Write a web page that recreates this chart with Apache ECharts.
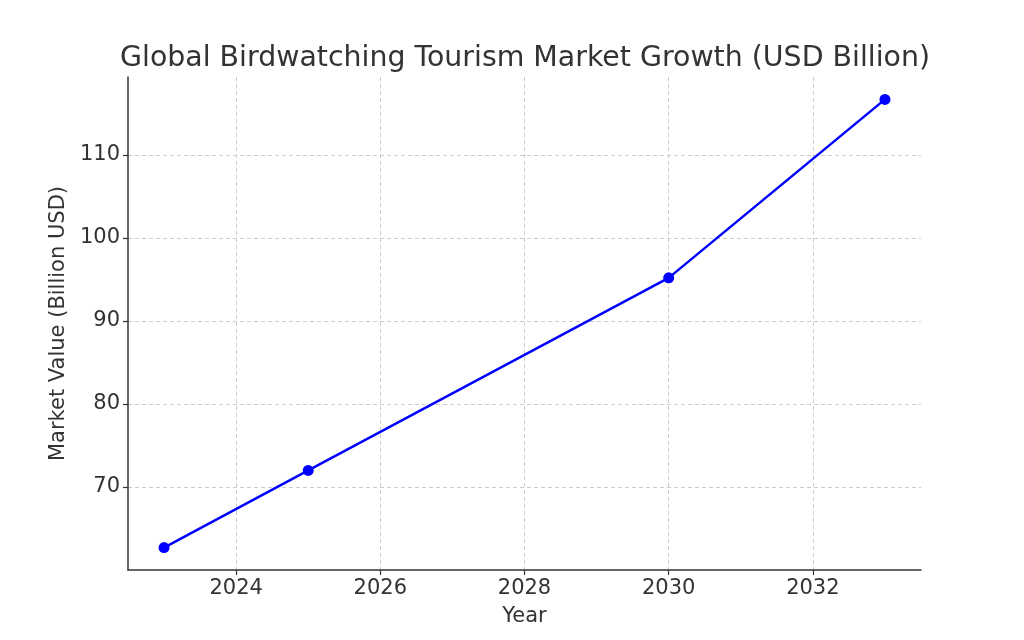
<!DOCTYPE html>
<html>
<head>
<meta charset="utf-8">
<script src="https://cdn.jsdelivr.net/npm/echarts@6/dist/echarts.min.js"></script>
<style>
    html, body { margin: 0; padding: 0; background: #fff; }
    #marketChart { width: 1024px; height: 640px; }
</style>
</head>
<body>
<div id="marketChart"></div>
<script>
// data
let years = [2023, 2025, 2030, 2033];
let marketValues = [62.7, 72.0, 95.2, 116.7];
let yearTicks = [2024, 2026, 2028, 2030, 2032];
let valueTicks = [70, 80, 90, 100, 110];

let marketChart = echarts.init(document.getElementById('marketChart'));

let fontName = 'DejaVu Sans';
let textColor = '#333333';

let marketOption = {
    animation: false,
    title: {
        text: 'Global Birdwatching Tourism Market Growth (USD Billion)',
        left: 520,
        top: 40,
        textAlign: 'center',
        textStyle: {
            fontFamily: fontName,
            fontSize: 28.4,
            fontWeight: 'normal',
            color: textColor
        }
    },
    grid: {
        left: 128,
        right: 103,
        top: 77,
        bottom: 70
    },
    xAxis: {
        type: 'value',
        min: 2022.5,
        max: 2033.5,
        name: 'Year',
        nameLocation: 'middle',
        nameGap: 36,
        nameTextStyle: {
            fontFamily: fontName,
            fontSize: 21,
            color: textColor
        },
        axisLine: {
            onZero: false,
            lineStyle: {color: '#333333', width: 1.5}
        },
        axisTick: {
            show: true,
            length: 5,
            customValues: yearTicks,
            lineStyle: {color: '#333333', width: 1.2}
        },
        axisLabel: {
            customValues: yearTicks,
            formatter: function (value) {
                return String(value);
            },
            fontFamily: fontName,
            fontSize: 21,
            color: textColor,
            margin: 8
        },
        splitLine: {
            show: true,
            lineStyle: {color: '#cccccc', type: [4, 3], width: 1}
        }
    },
    yAxis: {
        type: 'value',
        min: 60,
        max: 119.4,
        name: 'Market Value (Billion USD)',
        nameLocation: 'middle',
        nameGap: 52,
        nameTextStyle: {
            fontFamily: fontName,
            fontSize: 21,
            color: textColor
        },
        axisLine: {
            show: true,
            onZero: false,
            lineStyle: {color: '#333333', width: 1.5}
        },
        axisTick: {
            show: true,
            length: 5,
            customValues: valueTicks,
            lineStyle: {color: '#333333', width: 1.2}
        },
        axisLabel: {
            customValues: valueTicks,
            fontFamily: fontName,
            fontSize: 21,
            color: textColor,
            margin: 8
        },
        splitLine: {
            show: true,
            lineStyle: {color: '#cccccc', type: [4, 3], width: 1}
        }
    },
    series: [
        {
            name: 'Market Value',
            type: 'line',
            data: years.map((y, i) => [y, marketValues[i]]),
            symbol: 'circle',
            symbolSize: 11,
            itemStyle: {color: '#0000ff'},
            lineStyle: {color: '#0000ff', width: 2.5}
        }
    ]
};

marketChart.setOption(marketOption);

window.onresize = function () {
    marketChart.resize();
};
</script>
</body>
</html>
